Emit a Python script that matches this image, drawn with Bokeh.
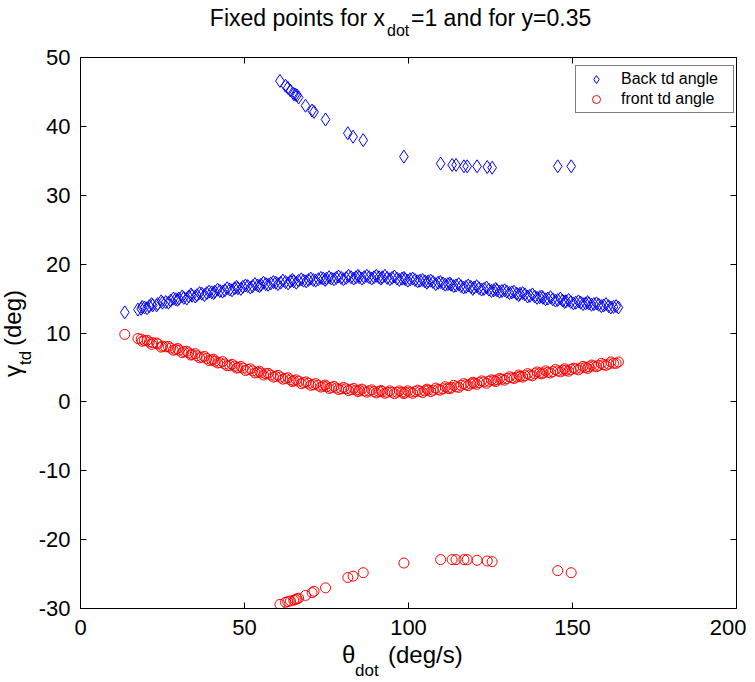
from bokeh.plotting import figure
from bokeh.models import Range1d, LinearAxis, FixedTicker, Legend, Div
from bokeh.layouts import column, row
from bokeh.embed import file_html
from bokeh.resources import INLINE

# ---------------- data ----------------
theta_band = [13.5, 17.5, 18.5, 19.5, 21, 22, 23.5, 25, 26, 27.5, 29, 30, 31.5, 33, 34, 35.5,
              37, 38.5, 40, 41, 42.5, 44, 45.5, 47, 48, 49.5, 51, 52.5, 54, 55, 56.5, 58,
              59.5, 61, 62.5, 64, 65, 66.5, 68, 69.5, 71, 72.5, 74, 75, 76.5, 78, 79.5, 81,
              82.5, 84, 85, 86.5, 88, 89.5, 91, 92, 93.5, 95, 96.5, 98, 99, 100.5, 102,
              103.5, 105, 106, 107.5, 109, 110.5, 112, 113, 114.5, 116, 117.5, 119, 120,
              121.5, 123, 124.5, 126, 127, 128.5, 130, 131.5, 133, 134, 135.5, 137, 138.5,
              140, 141, 142.5, 144, 145.5, 147, 148, 149.5, 151, 152.5, 154, 155, 156.5,
              158, 159.5, 161, 162.5, 164]
back_band = [13.0, 13.4, 13.5, 13.7, 13.9, 14.0, 14.2, 14.4, 14.5, 14.7, 14.9, 15.0, 15.1, 15.3,
             15.4, 15.5, 15.7, 15.8, 15.9, 16.0, 16.1, 16.2, 16.3, 16.5, 16.5, 16.7, 16.8,
             16.8, 16.9, 17.0, 17.1, 17.2, 17.3, 17.3, 17.4, 17.5, 17.5, 17.6, 17.6, 17.7,
             17.7, 17.8, 17.9, 17.9, 17.9, 18.0, 18.0, 18.0, 18.1, 18.1, 18.1, 18.1, 18.1,
             18.1, 18.1, 18.1, 18.0, 18.0, 17.9, 17.9, 17.8, 17.8, 17.7, 17.6, 17.5, 17.5,
             17.4, 17.3, 17.2, 17.1, 17.0, 16.9, 16.8, 16.7, 16.7, 16.6, 16.5, 16.4, 16.3,
             16.2, 16.2, 16.1, 16.0, 15.9, 15.7, 15.7, 15.6, 15.4, 15.3, 15.2, 15.1, 15.0,
             14.9, 14.8, 14.7, 14.6, 14.5, 14.4, 14.4, 14.3, 14.3, 14.2, 14.1, 14.0, 13.9,
             13.8, 13.7]
front_band = [9.8, 9.2, 9.1, 8.9, 8.7, 8.6, 8.4, 8.1, 8.0, 7.8, 7.6, 7.5, 7.3, 7.1, 6.9, 6.7,
              6.5, 6.3, 6.1, 5.9, 5.7, 5.5, 5.3, 5.2, 5.0, 4.9, 4.7, 4.5, 4.3, 4.2, 4.1, 3.9,
              3.7, 3.6, 3.4, 3.2, 3.1, 3.0, 2.8, 2.7, 2.5, 2.4, 2.3, 2.2, 2.1, 2.0, 1.9, 1.9,
              1.8, 1.7, 1.7, 1.6, 1.6, 1.5, 1.5, 1.5, 1.4, 1.4, 1.4, 1.4, 1.4, 1.4, 1.5, 1.5,
              1.6, 1.7, 1.7, 1.8, 1.9, 2.0, 2.1, 2.2, 2.4, 2.5, 2.6, 2.7, 2.8, 2.9, 3.0, 3.1,
              3.2, 3.3, 3.4, 3.5, 3.6, 3.7, 3.8, 3.9, 4.1, 4.2, 4.2, 4.3, 4.4, 4.5, 4.6, 4.6,
              4.7, 4.8, 4.9, 5.0, 5.1, 5.2, 5.3, 5.4, 5.5, 5.6, 5.8]

theta_band2 = [18.8, 20.3, 21.7, 23.2, 24.6, 26.8, 28.3, 29.6, 31.0, 32.4,
               33.7, 35.0, 36.3, 37.8, 39.2, 40.6, 41.8, 43.3, 44.7, 46.2,
               47.6, 48.9, 50.3, 51.8, 53.2, 54.6, 55.8, 57.2, 58.8, 60.2,
               61.7, 63.3, 64.6, 65.8, 67.3, 68.8, 70.2, 71.7, 73.3, 74.6,
               75.8, 77.3, 78.7, 80.2, 81.7, 83.3, 84.6, 85.8, 87.3, 88.8,
               90.2, 91.6, 92.8, 94.3, 95.7, 97.2, 98.6, 99.8, 101.3, 102.8,
               104.3, 105.6, 106.8, 108.3, 109.7, 111.2, 112.6, 113.8, 115.3, 116.8,
               118.2, 119.6, 120.8, 122.3, 123.8, 125.3, 126.6, 127.8, 129.3, 130.8,
               132.2, 133.6, 134.8, 136.3, 137.8, 139.2, 140.6, 141.8, 143.3, 144.8,
               146.3, 147.6, 148.8, 150.3, 151.8, 153.2, 154.6, 155.8, 157.3, 158.8,
               160.2, 161.7, 163.3]
back_band2 = [13.8, 13.6, 14.2, 14.0, 14.6, 14.4, 15.0, 14.8, 15.3, 15.0,
              15.6, 15.3, 15.8, 15.5, 16.0, 15.8, 16.3, 16.0, 16.5, 16.2,
              16.7, 16.4, 16.9, 16.6, 17.1, 16.8, 17.3, 17.0, 17.4, 17.1,
              17.6, 17.2, 17.7, 17.3, 17.8, 17.5, 17.9, 17.6, 18.0, 17.7,
              18.1, 17.8, 18.2, 17.8, 18.3, 17.9, 18.3, 17.9, 18.3, 17.9,
              18.3, 17.9, 18.3, 17.8, 18.2, 17.7, 18.0, 17.6, 17.9, 17.5,
              17.7, 17.3, 17.6, 17.1, 17.4, 17.0, 17.2, 16.8, 17.1, 16.6,
              16.9, 16.4, 16.8, 16.3, 16.6, 16.1, 16.4, 16.0, 16.2, 15.8,
              16.0, 15.5, 15.8, 15.3, 15.6, 15.1, 15.3, 14.9, 15.2, 14.7,
              15.0, 14.5, 14.8, 14.3, 14.6, 14.2, 14.5, 14.1, 14.3, 13.9,
              14.2, 13.7, 13.9]
front_band2 = [8.8, 8.95, 8.35, 8.55, 7.95, 8.05, 7.5, 7.75, 7.15, 7.35,
               6.8, 7.0, 6.4, 6.6, 6.0, 6.2, 5.65, 5.85, 5.25, 5.45,
               4.9, 5.15, 4.55, 4.8, 4.2, 4.45, 3.9, 4.15, 3.6, 3.85,
               3.3, 3.5, 2.95, 3.2, 2.65, 2.9, 2.4, 2.65, 2.15, 2.45,
               1.95, 2.25, 1.8, 2.1, 1.65, 1.95, 1.5, 1.85, 1.4, 1.75,
               1.3, 1.65, 1.25, 1.6, 1.2, 1.6, 1.2, 1.6, 1.25, 1.7,
               1.35, 1.85, 1.5, 2.0, 1.7, 2.2, 1.9, 2.4, 2.1, 2.65,
               2.35, 2.85, 2.55, 3.05, 2.7, 3.2, 2.95, 3.4, 3.15, 3.65,
               3.4, 3.9, 3.6, 4.1, 3.8, 4.35, 4.05, 4.5, 4.2, 4.7,
               4.35, 4.8, 4.45, 4.9, 4.65, 5.15, 4.85, 5.35, 5.1, 5.6,
               5.3, 5.8, 5.6]

theta_iso = [60.8, 62.5, 63.2, 64, 65, 65.5, 66, 66.5, 68.6, 70.6, 71.2, 74.7, 81.5, 83.1, 86.2,
             98.6, 109.8, 113.3, 114.5, 116.9, 117.9, 120.9, 124.0, 125.5, 145.5, 149.6]
back_iso = [46.6, 45.9, 45.6, 45.2, 44.7, 44.6, 44.5, 44.2, 43.0, 42.3, 42.1, 41.0, 39.0, 38.5,
            38.0, 35.6, 34.6, 34.4, 34.4, 34.2, 34.2, 34.2, 34.1, 34.0, 34.2, 34.2]
front_iso = [-29.4, -29.1, -29.0, -28.9, -28.8, -28.7, -28.6, -28.5, -28.1, -27.7, -27.5, -27.0,
             -25.5, -25.3, -24.8, -23.4, -22.9, -22.9, -22.9, -22.9, -22.9, -23.0, -23.1,
             -23.2, -24.5, -24.8]

x_ticks = [0, 50, 100, 150, 200]
y_ticks = [-30, -20, -10, 0, 10, 20, 30, 40, 50]
series_names = ["Back td angle", "front td angle"]

theta_all = theta_band + theta_band2 + theta_iso
back_all = back_band + back_band2 + back_iso
front_all = front_band + front_band2 + front_iso

# ---------------- layout (page pixels) ----------------
FONT = "Liberation Sans"
FL, FR, FT, FB = 80, 736, 57, 608     # frame edges on the page
YLAB_W = 32                            # width of the y-label strip
TITLE_H = 40                           # height of the title strip
P_W = 714
BORDER_B = 38
P_H = (FB - TITLE_H) + BORDER_B
XLAB_TOP = TITLE_H + P_H
XLAB_H = 34
ASC = 0.8465                           # baseline position inside a line-height:1 box

p = figure(width=P_W, height=P_H,
           x_range=Range1d(0, 200), y_range=Range1d(-30, 50),
           output_backend="svg", toolbar_location=None,
           min_border_left=FL - YLAB_W, min_border_right=P_W - (FR - YLAB_W),
           min_border_top=FT - TITLE_H, min_border_bottom=BORDER_B)
p.background_fill_color = "white"
p.border_fill_color = "white"
p.outline_line_color = None
p.xgrid.visible = False
p.ygrid.visible = False

r_back = p.scatter(theta_all, back_all, marker="diamond", size=13,
                   line_color="#0000ff", fill_color=None, line_width=1)
r_front = p.scatter(theta_all, front_all, marker="circle", size=10,
                    line_color="#ff0000", fill_color=None, line_width=1)

xb = p.xaxis[0]
yl = p.yaxis[0]
xt = LinearAxis()
yr = LinearAxis()
p.add_layout(xt, "above")
p.add_layout(yr, "right")

for ax, ticks, show, so in ((xb, x_ticks, True, 11), (yl, y_ticks, True, 10),
                            (xt, x_ticks, False, 0), (yr, y_ticks, False, 0)):
    ax.ticker = FixedTicker(ticks=ticks)
    ax.axis_line_color = "black"
    ax.axis_line_width = 1
    ax.major_tick_line_color = "black"
    ax.major_tick_in = 6
    ax.major_tick_out = 0
    ax.minor_tick_line_color = None
    ax.major_label_text_font = FONT
    ax.major_label_text_color = "black"
    ax.major_label_standoff = so
    if show:
        ax.major_label_text_font_size = "22px"
        ax.major_label_overrides = {t: str(t) for t in ticks}
    else:
        ax.major_label_text_font_size = "2px"
        ax.major_label_overrides = {t: "" for t in ticks}

legend = Legend(items=[(series_names[0], [r_back]), (series_names[1], [r_front])],
                location=(575 - FL, FB - 113))
legend.padding = 3
legend.spacing = 0
legend.margin = 0
legend.glyph_width = 34
legend.glyph_height = 20
legend.label_height = 20
legend.label_width = 109
legend.label_standoff = 8
legend.label_text_font = FONT
legend.label_text_font_size = "16px"
legend.label_text_color = "black"
legend.border_line_color = "black"
legend.border_line_width = 1
legend.background_fill_color = "white"
legend.background_fill_alpha = 1
p.add_layout(legend)


def span(txt, size, left=None, right=None, top=0.0, rotate=False):
    pos = f"left:{left}px;" if left is not None else f"right:{right}px;"
    rot = "transform:rotate(-90deg);transform-origin:0 0;" if rotate else ""
    return (f'<span style="position:absolute;{pos}top:{top:.1f}px;font-size:{size}px;'
            f'line-height:1;white-space:nowrap;{rot}">{txt}</span>')


def box(w, h, inner):
    return (f'<div style="position:relative;width:{w}px;height:{h}px;overflow:visible;'
            f'font-family:\'{FONT}\',Arial,sans-serif;color:#000;">{inner}</div>')


# title: Fixed points for x_dot=1 and for y=0.35   (baselines at page y 26 / 36)
title_html = box(740, TITLE_H,
                 span("Fixed points for x", 23, right=740 - 385, top=26 - ASC * 23)
                 + span("dot", 16, left=387, top=36 - ASC * 16)
                 + span("=1 and for y=0.35", 23, left=411, top=26 - ASC * 23))
title_div = Div(text=title_html, width=740, height=TITLE_H, margin=0)

# x label: theta_dot (deg/s)   (baselines at page y 663 / 676)
xlab_html = box(740, XLAB_H,
                span("\u03b8", 24, left=342, top=663 - XLAB_TOP - ASC * 24)
                + span("dot", 17, left=355, top=676 - XLAB_TOP - ASC * 17)
                + span("(deg/s)", 24, left=388, top=663 - XLAB_TOP - ASC * 24))
xlab_div = Div(text=xlab_html, width=740, height=XLAB_H, margin=0)

# y label: gamma_td (deg), reading upwards (baselines at page x 21 / 31)
ylab_html = box(YLAB_W, P_H,
                span("\u03b3", 24, left=21 - ASC * 24, top=377 - TITLE_H, rotate=True)
                + span("td", 17, left=31 - ASC * 17, top=365 - TITLE_H, rotate=True)
                + span("(deg)", 24, left=21 - ASC * 24, top=346 - TITLE_H, rotate=True))
ylab_div = Div(text=ylab_html, width=YLAB_W, height=P_H, margin=0)

layout = column(title_div, row(ylab_div, p, spacing=0), xlab_div, spacing=0)

open("out.html", "w").write(file_html(layout, INLINE))
